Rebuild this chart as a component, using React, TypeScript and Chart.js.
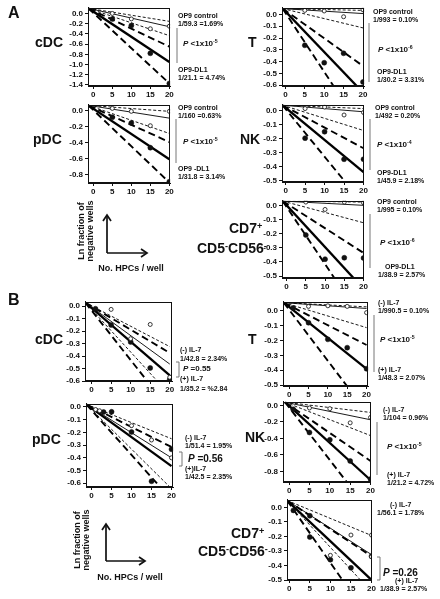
import React, { useEffect, useRef } from 'react';
import { Chart, registerables } from 'chart.js';

Chart.register(...registerables);

const FONT = '"Liberation Sans", Arial, Helvetica, sans-serif';

// ---------- data ----------
const doses = [5, 10, 15, 20];
const xTicks = [0, 5, 10, 15, 20];
const yTicks14 = [0, -0.2, -0.4, -0.6, -0.8, -1.0, -1.2, -1.4];
const yTicks08 = [0, -0.2, -0.4, -0.6, -0.8];
const yTicks06 = [0, -0.1, -0.2, -0.3, -0.4, -0.5, -0.6];
const yTicks05 = [0, -0.1, -0.2, -0.3, -0.4, -0.5];

// line end values at x = 20, order: ctrl upper CI, ctrl fit, ctrl lower CI, treated upper CI, treated fit, treated lower CI
const aCdcStart = [-1.3, 0.1];
const aCdcEnds = [-0.155, -0.26, -0.435, -0.65, -0.95, -1.37];
const aCdcOpen = [0.0, -0.107, -0.3, -0.25];
const aCdcFilled = [-0.107, -0.237, -0.78, -1.37];

const aPdcStart = [-1.3, 0.065];
const aPdcEnds = [-0.01, -0.095, -0.287, -0.394, -0.61, -0.9];
const aPdcOpen = [0.027, -0.01, -0.19, -0.01];
const aPdcFilled = [-0.084, -0.155, -0.465, -0.89];

const aTStart = [-0.7, 0.05];
const aTEnds = [0.035, 0.008, -0.114, -0.438, -0.664, -0.99];
const aTOpen = [0.035, 0.03, -0.019, 0.04];
const aTFilled = [-0.262, -0.41, -0.33, -0.574];

const aNkStart = [-0.8, 0.04];
const aNkEnds = [0.016, -0.007, -0.141, -0.268, -0.439, -0.67];
const aNkOpen = [0.016, 0.027, -0.03, -0.012];
const aNkFilled = [-0.196, -0.15, -0.347, -0.347];

const aCd7Start = [-1.0, 0.03];
const aCd7Ends = [0.023, 0.0, -0.123, -0.336, -0.59, -0.82];
const aCd7Open = [0.023, -0.029, 0.023, 0.018];
const aCd7Filled = [-0.209, -0.38, -0.37, -0.372];

const bCdcStart = [-1.6, 0.03];
const bCdcEnds = [-0.324, -0.464, -0.71, -0.375, -0.554, -0.83];
const bCdcOpenX = [5, 10, 15, 20];
const bCdcOpen = [-0.025, -0.26, -0.146, -0.57];
const bCdcFilledX = [1, 5, 10, 15, 20];
const bCdcFilled = [-0.02, -0.15, -0.286, -0.495, -0.587];

const bPdcStart = [-1.3, 0.02];
const bPdcEnds = [-0.25, -0.4, -0.643, -0.315, -0.466, -0.73];
const bPdcOpenX = [1, 2, 10, 15, 20];
const bPdcOpen = [-0.02, -0.03, -0.147, -0.26, -0.4];
const bPdcFilledX = [3, 5, 10, 15, 20];
const bPdcFilled = [-0.04, -0.038, -0.197, -0.585, -0.333];

const bTStart = [-1.4, 0.055];
const bTEnds = [0.027, 0.016, -0.113, -0.23, -0.39, -0.68];
const bTOpenX = [5, 10, 15, 20];
const bTOpen = [0.03, 0.034, 0.03, -0.012];
const bTFilledX = [1, 5, 10, 15, 20];
const bTFilled = [0.02, -0.08, -0.192, -0.248, -0.39];

const bNkStart = [-1.0, 0.04];
const bNkEnds = [-0.084, -0.173, -0.365, -0.673, -0.904, -1.3];
const bNkOpenX = [5, 10, 15, 20];
const bNkOpen = [-0.03, -0.038, -0.21, -0.145];
const bNkFilledX = [1, 5, 10, 15, 20];
const bNkFilled = [-0.046, -0.327, -0.416, -0.673, -0.893];

const bCd7Start = [-0.5, 0.048];
const bCd7Ends = [-0.193, -0.325, -0.583, -0.336, -0.5, -0.79];
const bCd7OpenX = [10, 15, 20, 20];
const bCd7Open = [-0.33, -0.19, -0.19, -0.34];
const bCd7FilledX = [1, 5, 5, 10, 15, 20];
const bCd7Filled = [-0.02, -0.057, -0.204, -0.36, -0.416, -0.336];

// ---------- styles / layout ----------
const lineStyles = [
  { w: 0.9, dash: [3, 2] },
  { w: 0.9, dash: [] as number[] },
  { w: 0.9, dash: [3, 2] },
  { w: 1.9, dash: [7, 4] },
  { w: 2.3, dash: [] as number[] },
  { w: 1.9, dash: [7, 4] },
];

type PanelDef = {
  box: number[]; xr: number[]; yr: number[]; yTicks: number[];
  start: number[]; ends: number[];
  openX: number[]; openY: number[]; fillX: number[]; fillY: number[];
};

const panels: PanelDef[] = [
  { box: [88, 4, 172, 86], xr: [-1.4, 20.2], yr: [-1.42, 0.11], yTicks: yTicks14, start: aCdcStart, ends: aCdcEnds, openX: doses, openY: aCdcOpen, fillX: doses, fillY: aCdcFilled },
  { box: [88, 101, 172, 183], xr: [-1.4, 20.2], yr: [-0.907, 0.072], yTicks: yTicks08, start: aPdcStart, ends: aPdcEnds, openX: doses, openY: aPdcOpen, fillX: doses, fillY: aPdcFilled },
  { box: [282, 4, 366, 86], xr: [-0.88, 20.28], yr: [-0.608, 0.057], yTicks: yTicks06, start: aTStart, ends: aTEnds, openX: doses, openY: aTOpen, fillX: doses, fillY: aTFilled },
  { box: [282, 101, 366, 182], xr: [-0.93, 20.1], yr: [-0.51, 0.043], yTicks: yTicks05, start: aNkStart, ends: aNkEnds, openX: doses, openY: aNkOpen, fillX: doses, fillY: aNkFilled },
  { box: [282, 197, 366, 278], xr: [-1.19, 20.1], yr: [-0.513, 0.032], yTicks: yTicks05, start: aCd7Start, ends: aCd7Ends, openX: doses, openY: aCd7Open, fillX: doses, fillY: aCd7Filled },
  { box: [85, 298, 174, 381], xr: [-1.68, 20.6], yr: [-0.6, 0.036], yTicks: yTicks06, start: bCdcStart, ends: bCdcEnds, openX: bCdcOpenX, openY: bCdcOpen, fillX: bCdcFilledX, fillY: bCdcFilled },
  { box: [86, 400, 175, 487], xr: [-1.4, 20.4], yr: [-0.63, 0.025], yTicks: yTicks06, start: bPdcStart, ends: bPdcEnds, openX: bPdcOpenX, openY: bPdcOpen, fillX: bPdcFilledX, fillY: bPdcFilled },
  { box: [283, 298, 370, 386], xr: [-1.6, 20.4], yr: [-0.506, 0.061], yTicks: yTicks05, start: bTStart, ends: bTEnds, openX: bTOpenX, openY: bTOpen, fillX: bTFilledX, fillY: bTFilled },
  { box: [283, 398, 373, 482], xr: [-1.5, 20.1], yr: [-0.928, 0.045], yTicks: yTicks08, start: bNkStart, ends: bNkEnds, openX: bNkOpenX, openY: bNkOpen, fillX: bNkFilledX, fillY: bNkFilled },
  { box: [287, 496, 374, 580], xr: [-0.55, 20.1], yr: [-0.5, 0.053], yTicks: yTicks05, start: bCd7Start, ends: bCd7Ends, openX: bCd7OpenX, openY: bCd7Open, fillX: bCd7FilledX, fillY: bCd7Filled },
];

const YW = 26;
const XH = 14;
const PT = 3;
const PR = 3;

const framePlugin = {
  id: 'frame',
  afterDraw(chart: any) {
    const { ctx, chartArea: a } = chart;
    ctx.save();
    ctx.strokeStyle = '#111';
    ctx.lineWidth = 1;
    ctx.strokeRect(Math.round(a.left) + 0.5, Math.round(a.top) + 0.5, Math.round(a.right - a.left) - 1, Math.round(a.bottom - a.top) - 1);
    ctx.restore();
  },
};

function Panel({ p }: { p: PanelDef }) {
  const ref = useRef<HTMLCanvasElement>(null);
  const [L, T, R, B] = p.box;
  const W = YW + (R - L) + PR;
  const H = PT + (B - T) + XH;
  useEffect(() => {
    const datasets: any[] = [];
    datasets.push({
      data: p.openX.map((x, i) => ({ x, y: p.openY[i] })),
      showLine: false, pointRadius: 2, pointBackgroundColor: '#fff', pointBorderColor: '#222', pointBorderWidth: 0.9,
    });
    datasets.push({
      data: p.fillX.map((x, i) => ({ x, y: p.fillY[i] })),
      showLine: false, pointRadius: 2.5, pointBackgroundColor: '#111', pointBorderColor: '#111', pointBorderWidth: 0.5,
    });
    lineStyles.forEach((st, i) => {
      datasets.push({
        data: [{ x: p.start[0], y: p.start[1] }, { x: 20, y: p.ends[i] }],
        showLine: true, pointRadius: 0, borderColor: '#000', borderWidth: st.w, borderDash: st.dash, clip: 0,
      });
    });
    const tickFont = { family: 'Liberation Sans', size: 8, weight: 'bold' as const };
    const chart = new Chart(ref.current as HTMLCanvasElement, {
      type: 'scatter',
      data: { datasets },
      options: {
        animation: false,
        responsive: false,
        events: [],
        layout: { padding: { top: PT, right: PR, left: 0, bottom: 0 } },
        plugins: { legend: { display: false }, tooltip: { enabled: false } },
        scales: {
          x: {
            type: 'linear', min: p.xr[0], max: p.xr[1],
            afterBuildTicks: (s: any) => { s.ticks = xTicks.map((v) => ({ value: v })); },
            afterFit: (s: any) => { s.height = XH; },
            ticks: { font: tickFont, color: '#111', padding: 1, maxRotation: 0, autoSkip: false, callback: (v: any) => String(v) },
            grid: { drawOnChartArea: false, tickLength: 3, color: '#111' },
            border: { color: '#111', width: 1 },
          },
          y: {
            type: 'linear', min: p.yr[0], max: p.yr[1],
            afterBuildTicks: (s: any) => { s.ticks = p.yTicks.map((v) => ({ value: v })); },
            afterFit: (s: any) => { s.width = YW; },
            ticks: { font: tickFont, color: '#111', padding: 2, autoSkip: false, callback: (v: any) => Number(v).toFixed(1) },
            grid: { drawOnChartArea: false, tickLength: 3, color: '#111' },
            border: { color: '#111', width: 1 },
          },
        },
      } as any,
      plugins: [framePlugin],
    });
    return () => chart.destroy();
  }, [p]);
  return (
    <canvas
      ref={ref}
      width={W}
      height={H}
      style={{ position: 'absolute', left: L - YW, top: T - PT, width: W, height: H }}
    />
  );
}

const Sup = ({ children }: { children: React.ReactNode }) => (
  <span style={{ fontSize: '0.65em', position: 'relative', top: '-0.45em' }}>{children}</span>
);

function Txt({ x, y, size = 7, children, italic }: { x: number; y: number; size?: number; children: React.ReactNode; italic?: boolean }) {
  return (
    <div style={{ position: 'absolute', left: x, top: y - size * 0.55, fontSize: size, lineHeight: 1.1, whiteSpace: 'nowrap', fontWeight: 'bold', fontStyle: italic ? 'italic' : 'normal', color: '#111' }}>
      {children}
    </div>
  );
}

const Pv = ({ s }: { s: string }) => (<><i>P</i> &lt;1x10<Sup>{s}</Sup></>);

export default function App() {
  return (
    <div style={{ position: 'absolute', left: 0, top: 0, width: 440, height: 599, background: '#fff', overflow: 'hidden', fontFamily: FONT }}>
      {panels.map((p, i) => <Panel key={i} p={p} />)}

      <svg width={440} height={599} style={{ position: 'absolute', left: 0, top: 0, pointerEvents: 'none' }}>
        <g stroke="#111" strokeWidth={1.7} fill="none">
          <line x1={107} y1={253} x2={107} y2={216} />
          <polyline points="103,221 107,215 111,221" />
          <line x1={107} y1={253} x2={146} y2={253} />
          <polyline points="141,249 147,253 141,257" />
          <line x1={106} y1={561} x2={106} y2={525} />
          <polyline points="102,530 106,524 110,530" />
          <line x1={106} y1={561} x2={144} y2={561} />
          <polyline points="139,557 145,561 139,565" />
        </g>
        <g stroke="#777" strokeWidth={1} fill="none">
          <line x1={177} y1={28} x2={177} y2={63} />
          <line x1={176} y1={119} x2={176} y2={163} />
          <line x1={369} y1={23} x2={369} y2={82} />
          <line x1={370} y1={119} x2={370} y2={170} />
          <line x1={370} y1={214} x2={370} y2={268} />
          <line x1={374} y1={315} x2={374} y2={372} />
          <line x1={377} y1={422} x2={377} y2={475} />
          <polyline points="176,362 179,362 179,377 176,377" />
          <polyline points="179,452 182,452 182,466 179,466" />
          <polyline points="377,557 380,557 380,580 377,580" />
        </g>
      </svg>

      <Txt x={8} y={13} size={16}>A</Txt>
      <Txt x={35} y={43} size={14}>cDC</Txt>
      <Txt x={33} y={140} size={14}>pDC</Txt>
      <Txt x={248} y={43} size={14}>T</Txt>
      <Txt x={240} y={140} size={14}>NK</Txt>
      <Txt x={229} y={229} size={14}>CD7<Sup>+</Sup></Txt>
      <Txt x={197} y={249} size={14}>CD5<Sup>-</Sup>CD56<Sup>-</Sup></Txt>

      <Txt x={178} y={16}>OP9 control</Txt>
      <Txt x={178} y={24}>1/59.3 =1.69%</Txt>
      <Txt x={183} y={44} size={8}><Pv s="-5" /></Txt>
      <Txt x={178} y={70}>OP9-DL1</Txt>
      <Txt x={178} y={78}>1/21.1 = 4.74%</Txt>

      <Txt x={178} y={108}>OP9 control</Txt>
      <Txt x={178} y={116}>1/160 =0.63%</Txt>
      <Txt x={183} y={142} size={8}><Pv s="-5" /></Txt>
      <Txt x={178} y={169}>OP9 -DL1</Txt>
      <Txt x={178} y={177}>1/31.8 = 3.14%</Txt>

      <Txt x={373} y={12}>OP9 control</Txt>
      <Txt x={373} y={20}>1/993 = 0.10%</Txt>
      <Txt x={378} y={50} size={8}><Pv s="-6" /></Txt>
      <Txt x={377} y={72}>OP9-DL1</Txt>
      <Txt x={377} y={80}>1/30.2 = 3.31%</Txt>

      <Txt x={375} y={108}>OP9 control</Txt>
      <Txt x={375} y={116}>1/492 = 0.20%</Txt>
      <Txt x={377} y={145} size={8}><Pv s="-4" /></Txt>
      <Txt x={377} y={173}>OP9-DL1</Txt>
      <Txt x={377} y={181}>1/45.9 = 2.18%</Txt>

      <Txt x={377} y={202}>OP9 control</Txt>
      <Txt x={377} y={210}>1/995 = 0.10%</Txt>
      <Txt x={380} y={243} size={8}><Pv s="-6" /></Txt>
      <Txt x={385} y={267}>OP9-DL1</Txt>
      <Txt x={378} y={275}>1/38.9 = 2.57%</Txt>

      <div style={{ position: 'absolute', left: 86, top: 231, transform: 'translate(-50%, -50%) rotate(-90deg)', fontSize: 9, lineHeight: '9px', fontWeight: 'bold', textAlign: 'center', whiteSpace: 'nowrap', color: '#111' }}>
        Ln fraction of<br />negative wells
      </div>
      <div style={{ position: 'absolute', left: 131, top: 268, transform: 'translate(-50%, -50%)', fontSize: 9, fontWeight: 'bold', whiteSpace: 'nowrap', color: '#111' }}>
        No. HPCs / well
      </div>

      <Txt x={8} y={300} size={16}>B</Txt>
      <Txt x={35} y={340} size={14}>cDC</Txt>
      <Txt x={32} y={440} size={14}>pDC</Txt>
      <Txt x={248} y={340} size={14}>T</Txt>
      <Txt x={245} y={438} size={14}>NK</Txt>
      <Txt x={231} y={534} size={14}>CD7<Sup>+</Sup></Txt>
      <Txt x={198} y={552} size={14}>CD5<Sup>-</Sup>CD56<Sup>-</Sup></Txt>

      <Txt x={180} y={350}>(-) IL-7</Txt>
      <Txt x={180} y={359}>1/42.8 = 2.34%</Txt>
      <Txt x={183} y={369} size={8}><i>P</i> =0.55</Txt>
      <Txt x={180} y={379}>(+) IL-7</Txt>
      <Txt x={180} y={389}>1/35.2 = %2.84</Txt>

      <Txt x={185} y={438}>(-) IL-7</Txt>
      <Txt x={185} y={446}>1/51.4 = 1.95%</Txt>
      <Txt x={188} y={458} size={10}><i>P</i> =0.56</Txt>
      <Txt x={185} y={469}>(+)IL-7</Txt>
      <Txt x={185} y={477}>1/42.5 = 2.35%</Txt>

      <Txt x={378} y={303}>(-) IL-7</Txt>
      <Txt x={378} y={311}>1/990.5 = 0.10%</Txt>
      <Txt x={380} y={340} size={8}><Pv s="-5" /></Txt>
      <Txt x={378} y={370}>(+) IL-7</Txt>
      <Txt x={378} y={378}>1/48.3 = 2.07%</Txt>

      <Txt x={383} y={410}>(-) IL-7</Txt>
      <Txt x={383} y={418}>1/104 = 0.96%</Txt>
      <Txt x={387} y={447} size={8}><Pv s="-5" /></Txt>
      <Txt x={387} y={475}>(+) IL-7</Txt>
      <Txt x={387} y={483}>1/21.2 = 4.72%</Txt>

      <Txt x={390} y={505}>(-) IL-7</Txt>
      <Txt x={377} y={513}>1/56.1 = 1.78%</Txt>
      <Txt x={383} y={572} size={10}><i>P</i> =0.26</Txt>
      <Txt x={395} y={581}>(+) IL-7</Txt>
      <Txt x={380} y={589}>1/38.9 = 2.57%</Txt>

      <div style={{ position: 'absolute', left: 82, top: 540, transform: 'translate(-50%, -50%) rotate(-90deg)', fontSize: 9, lineHeight: '9px', fontWeight: 'bold', textAlign: 'center', whiteSpace: 'nowrap', color: '#111' }}>
        Ln fraction of<br />negative wells
      </div>
      <div style={{ position: 'absolute', left: 130, top: 577, transform: 'translate(-50%, -50%)', fontSize: 9, fontWeight: 'bold', whiteSpace: 'nowrap', color: '#111' }}>
        No. HPCs / well
      </div>
    </div>
  );
}
